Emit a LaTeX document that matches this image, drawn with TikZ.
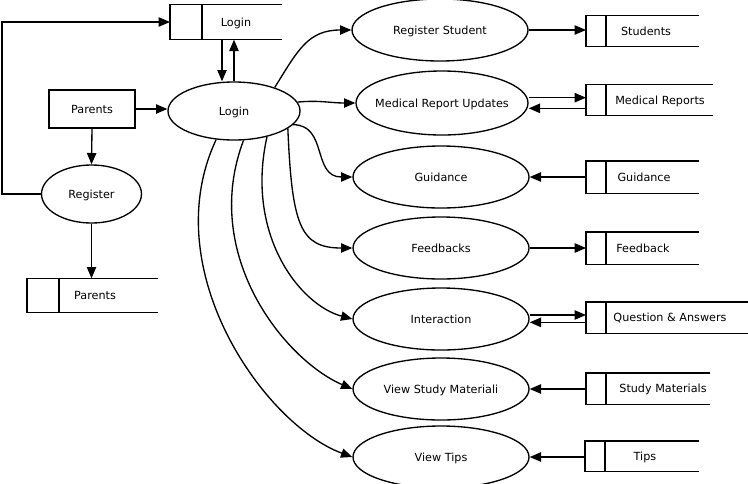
\documentclass[tikz,border=0pt]{standalone}
\usepackage{fontspec}
\setmainfont{DejaVu Sans}
\usetikzlibrary{arrows.meta,shapes.geometric}

% data store: name, left x, centre y, width, height, divider, label x, label
\newcommand{\datastore}[8]{%
  \node[draw=none, inner sep=0pt, anchor=west, minimum width=#4*0.75pt, minimum height=#5*0.75pt] (#1) at (#2,#3) {};
  \draw (#1.north east) -- (#1.north west) -- (#1.south west) -- (#1.south east);
  \draw ([xshift=#6*0.75pt]#1.north west) -- ([xshift=#6*0.75pt]#1.south west);
  \node[text depth=0pt] (#1-txt) at (#7,#3) {#8};
}

\begin{document}
\begin{tikzpicture}[x=0.75pt, y=-0.75pt, line width=1pt,
    font=\fontsize{8.4}{10}\selectfont,
    >={Triangle[length=8.5pt,width=7pt]},
    proc/.style={draw, ellipse, minimum width=132pt, minimum height=46.5pt, inner sep=0pt, text depth=0pt},
    entity/.style={draw, rectangle, minimum width=64.5pt, minimum height=28.5pt, inner sep=0pt, text depth=0pt}]
    \useasboundingbox (0,0) rectangle (748,483);

    % left side
    \datastore{lstore}{170}{22}{111}{34}{32}{236}{Login}
    \node[entity] (par) at (92,109) {Parents};
    \node[draw, ellipse, minimum width=99pt, minimum height=43.5pt, inner sep=0pt, text depth=0pt] (login) at (234,111) {Login};
    \node[draw, ellipse, minimum width=75pt, minimum height=43.5pt, inner sep=0pt, text depth=0pt] (reg) at (91.5,194) {Register};
    \datastore{pstore}{27}{295.5}{130}{33}{32}{95}{Parents}

    \draw[->] ([xshift=-9pt]login.north |- lstore.south) -- ([xshift=-9pt]login.north);
    \draw[->] (login.north) -- (login.north |- lstore.south);
    \draw[->] (par.east) -- (par.east -| login.west);
    \draw[->] (par.south) -- (reg.north);
    \draw[->] (reg.west) -- (2,194) |- (lstore.west);
    \draw[->] (reg.south) -- (reg.south |- pstore.north);

    % processes
    \node[proc] (rs) at (440,30) {Register Student};
    \node[proc, minimum width=129pt, minimum height=48pt, inner xsep=-10pt] (mr) at (442,103) {Medical Report Updates};
    \node[proc] (gd) at (441,177) {Guidance};
    \node[proc] (fb) at (441,248) {Feedbacks};
    \node[proc] (ia) at (441,319) {Interaction};
    \node[proc] (sm) at (441,389) {View Study Materiali};
    \node[proc] (vt) at (441,457) {View Tips};

    % data stores
    \datastore{sStu}{586}{31}{112}{30}{20}{646}{Students}
    \datastore{sMed}{586}{100}{126}{30}{20}{660}{Medical Reports}
    \datastore{sGd}{586}{177}{112}{31}{20}{644}{Guidance}
    \datastore{sFb}{586}{248}{112}{31}{20}{643}{Feedback}
    \datastore{sQa}{586}{317.5}{162}{30}{20}{670}{Question \& Answers}
    \datastore{sSm}{586}{388.5}{123}{30}{20}{663}{Study Materials}
    \datastore{sTp}{585}{456}{113}{29}{20}{645}{Tips}

    \draw[->] (rs.east) -- (rs.east -| sStu.west);
    \draw[->] ([yshift=4pt]mr.east) -- ([yshift=4pt]mr.east -| sMed.west);
    \draw[<-] ([yshift=-4pt]mr.east) -- ([yshift=-4pt]mr.east -| sMed.west);
    \draw[<-] (gd.east) -- (gd.east -| sGd.west);
    \draw[->] (fb.east) -- (fb.east -| sFb.west);
    \draw[->] ([yshift=3pt]ia.east) -- ([yshift=3pt]ia.east -| sQa.west);
    \draw[<-] ([yshift=-2.5pt]ia.east) -- ([yshift=-2.5pt]ia.east -| sQa.west);
    \draw[<-] (sm.east) -- (sm.east -| sSm.west);
    \draw[<-] (vt.east) -- (vt.east -| sTp.west);

    % flows out of login
    \draw[->] (login.30) .. controls (298,50) and (308,30) .. (rs.west);
    \draw[->] (login.8) .. controls (320,100) and (330,103) .. (mr.west);
    \draw[->] (login.-13) .. controls (328,125) and (312,177) .. (gd.west);
    \draw[->] (login.-18) .. controls (292,225) and (300,248) .. (fb.west);
    \draw[->] (login.-38) .. controls (245,235) and (300,305) .. (ia.west);
    \draw[->] (login.-72) .. controls (200,255) and (285,360) .. (sm.west);
    \draw[->] (login.-122) .. controls (155,270) and (265,425) .. (vt.west);
\end{tikzpicture}
\end{document}
